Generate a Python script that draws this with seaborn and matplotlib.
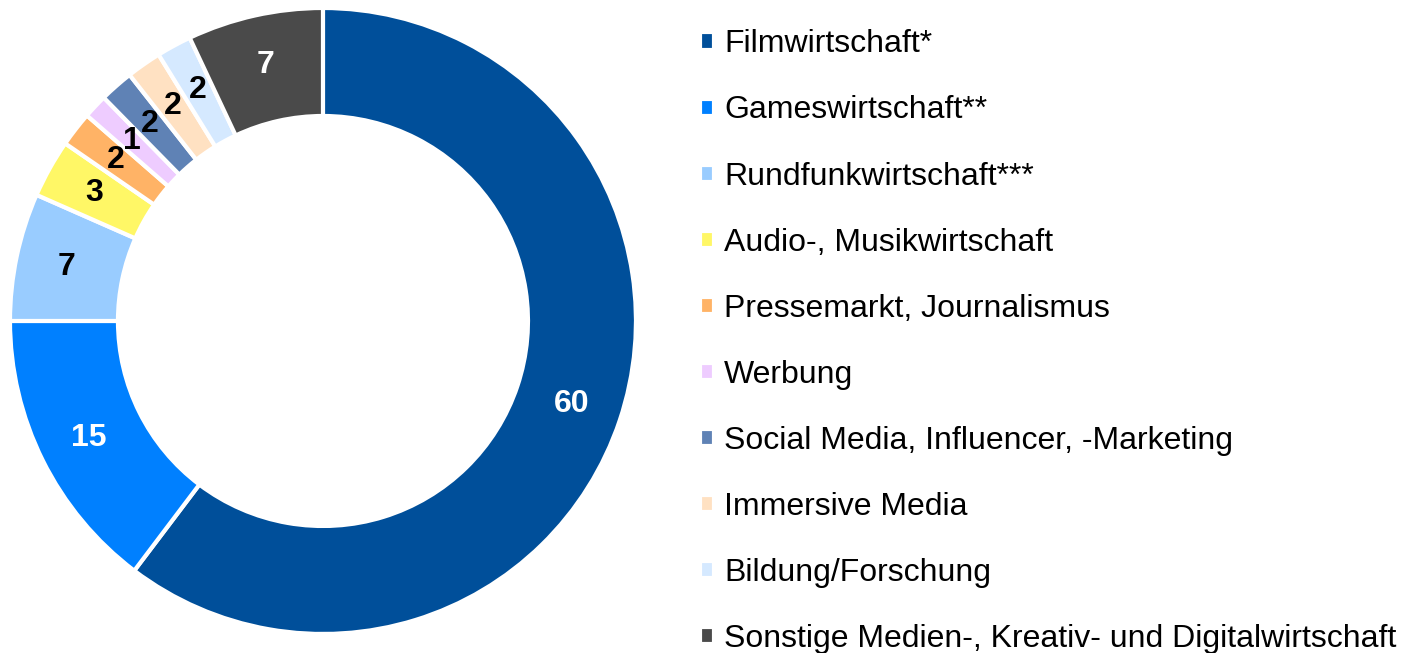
import numpy as np
import matplotlib.pyplot as plt
import seaborn as sns

categories = [
    "Filmwirtschaft*",
    "Gameswirtschaft**",
    "Rundfunkwirtschaft***",
    "Audio-, Musikwirtschaft",
    "Pressemarkt, Journalismus",
    "Werbung",
    "Social Media, Influencer, -Marketing",
    "Immersive Media",
    "Bildung/Forschung",
    "Sonstige Medien-, Kreativ- und Digitalwirtschaft",
]
# shares in percent and the rounded labels shown
shares = [60.3, 14.7, 6.6, 3.0, 1.8, 1.25, 1.75, 1.8, 1.8, 7.0]
shown = [60, 15, 7, 3, 2, 1, 2, 2, 2, 7]
colors = ["#004f9a", "#0080ff", "#99ccff", "#fff766", "#ffb366",
          "#eeccff", "#5f82b5", "#ffe1c2", "#d5e9ff", "#4a4a4a"]
label_colors = ["white", "white", "black", "black", "black",
                "black", "black", "black", "black", "white"]

sns.set_style("white")
plt.rcParams["font.family"] = ["Liberation Sans", "DejaVu Sans"]

fig = plt.figure(figsize=(14.07, 6.53), dpi=100)
ax = fig.add_axes([0.0071, 0.0291, 0.4449, 0.9587])

inner = 0.655
wedges, _ = ax.pie(shares, colors=colors, startangle=90, counterclock=False,
                   radius=1.0,
                   wedgeprops=dict(width=1 - inner, edgecolor="white", linewidth=3))
ax.set_xlim(-1, 1)
ax.set_ylim(-1, 1)
ax.set_aspect("equal")
ax.axis("off")

# value labels in the middle of the ring
r_mid = (1 + inner) / 2 + 0.01
for w, v, c in zip(wedges, shown, label_colors):
    ang = np.deg2rad((w.theta1 + w.theta2) / 2)
    ax.text(r_mid * np.cos(ang), r_mid * np.sin(ang), str(v),
            ha="center", va="center", fontsize=23, fontweight="bold", color=c)

fig.legend(wedges, categories, loc="upper left", bbox_to_anchor=(0.4975, 0.955),
           frameon=False, fontsize=23, handlelength=0.45, handleheight=0.45,
           handletextpad=0.31, labelspacing=1.13, borderaxespad=0.0, borderpad=0.0,
           labelcolor="black")

fig.savefig("out.png", dpi=100)
